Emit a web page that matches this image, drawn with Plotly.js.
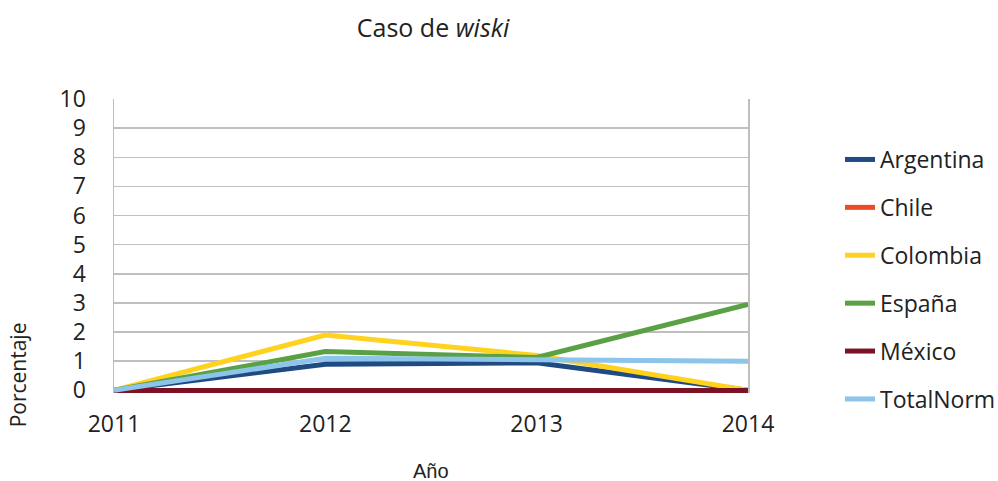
<!DOCTYPE html>
<html>
<head>
<meta charset="utf-8">
<script src="https://cdn.plot.ly/plotly-3.0.1.min.js"></script>
<style>html,body{margin:0;padding:0;background:#fff;}#chart{width:998px;height:481px;}</style>
</head>
<body>
<div id="chart"></div>
<script>
const years = [2011, 2012, 2013, 2014];
const argentina = [0, 0.9, 0.95, 0];
const chile = [0, 0, 0, 0];
const colombia = [0, 1.9, 1.2, 0];
const espana = [0, 1.33, 1.13, 2.95];
const mexico = [0, 0, 0, 0];
const totalNorm = [0, 1.1, 1.05, 1.0];
const seriesNames = ["Argentina", "Chile", "Colombia", "España", "México", "TotalNorm"];
const seriesColors = ["#1f4a82", "#ec4a25", "#ffd21f", "#5aa044", "#7c1123", "#8cc4ea"];
const yTicks = [0,1,2,3,4,5,6,7,8,9,10];

const seriesData = [argentina, chile, colombia, espana, mexico, totalNorm];
const FONT = "Open Sans, Noto Sans, sans-serif";

// layout geometry (pixels)
const W = 998, H = 481;
const plotL = 114, plotR = 748, plotT = 99, zeroPx = 390;
const yMin = -0.09, yMax = 10;
const pxPerUnit = (zeroPx - plotT) / yMax;
const plotB = zeroPx - yMin * pxPerUnit;
const plotH = plotB - plotT, plotW = plotR - plotL;
const px2x = p => (p - plotL) / plotW;
const px2y = p => (plotB - p) / plotH;

const traces = seriesData.map((vals, i) => ({
  x: years,
  y: vals,
  name: seriesNames[i],
  legendgroup: seriesNames[i],
  type: "scatter",
  mode: "lines",
  line: {color: seriesColors[i], width: 5},
  hoverinfo: "x+y+name"
}));

const layout = {
  width: W,
  height: H,
  paper_bgcolor: "#ffffff",
  plot_bgcolor: "#ffffff",
  margin: {l: plotL, r: W - plotR, t: plotT, b: H - plotB, pad: 0, autoexpand: false},
  font: {family: FONT, size: 23, color: "#222222"},
  title: {
    text: "Caso de <i>wiski</i>",
    font: {family: FONT, size: 25, color: "#222222"},
    x: 433 / W, xanchor: "center", xref: "container",
    y: 1 - 28 / H, yanchor: "middle", yref: "container"
  },
  xaxis: {
    range: [2011, 2014],
    tickvals: years,
    ticktext: years.map(String),
    showgrid: false,
    zeroline: false,
    showline: false,
    ticks: "",
    ticklabelstandoff: 15,
    automargin: false,
    tickfont: {family: FONT, size: 23, color: "#222222"}
  },
  yaxis: {
    range: [yMin, yMax],
    tickvals: yTicks,
    showgrid: true,
    gridcolor: "#bfbfbf",
    gridwidth: 1.5,
    zeroline: false,
    showline: true,
    mirror: true,
    linecolor: "#bfbfbf",
    linewidth: 1.5,
    ticks: "",
    ticklabelstandoff: 22,
    automargin: false,
    tickfont: {family: FONT, size: 23, color: "#222222"}
  },
  showlegend: true,
  legend: {
    xref: "container",
    yref: "container",
    x: 840 / W,
    xanchor: "left",
    y: 1 - 138 / H,
    yanchor: "top",
    maxheight: 420,
    traceorder: "grouped",
    tracegroupgap: 15,
    font: {family: FONT, size: 23, color: "#222222"},
    bgcolor: "rgba(0,0,0,0)",
    borderwidth: 0
  },
  annotations: [
    {
      text: "Porcentaje",
      xref: "paper", yref: "paper",
      x: px2x(18), y: px2y(375),
      xanchor: "center", yanchor: "middle",
      textangle: -90,
      showarrow: false,
      font: {family: FONT, size: 21, color: "#222222"}
    },
    {
      text: "Año",
      xref: "paper", yref: "paper",
      x: px2x(431), y: px2y(471),
      xanchor: "center", yanchor: "middle",
      showarrow: false,
      font: {family: "Liberation Sans, Arial, sans-serif", size: 20, color: "#222222"}
    }
  ]
};

Plotly.newPlot("chart", traces, layout, {displayModeBar: false, staticPlot: true});
</script>
</body>
</html>
